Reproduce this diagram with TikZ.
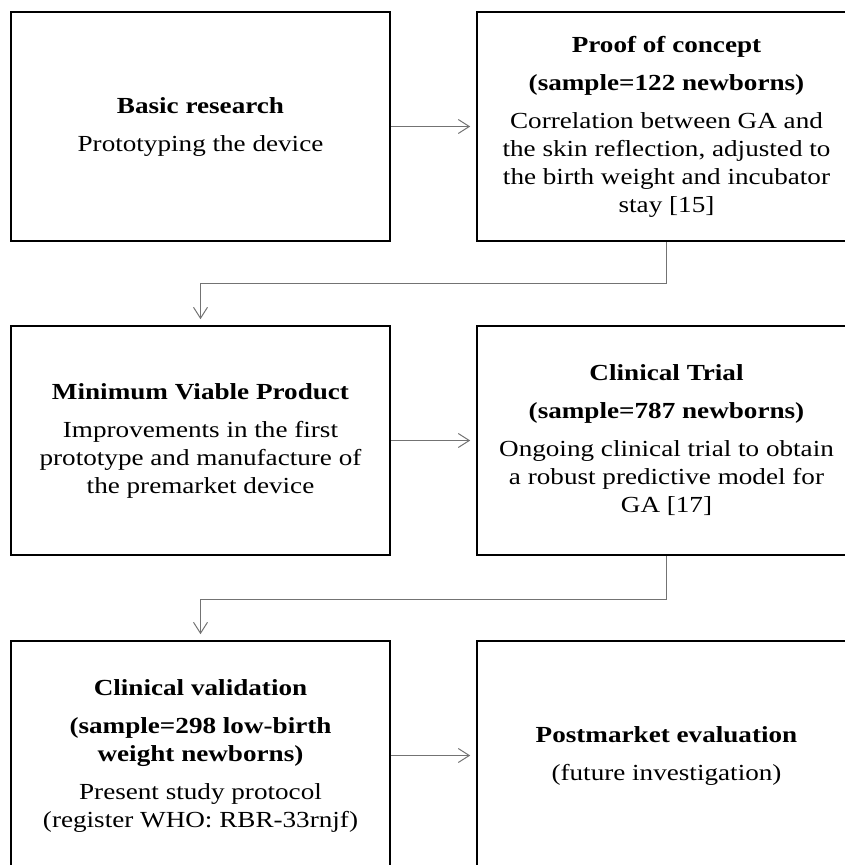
\documentclass[tikz,border=0pt]{standalone}
\usepackage{fontspec}
\setmainfont{Liberation Serif}[FakeStretch=1.18]
\usetikzlibrary{arrows.meta}
\tikzset{
    every node/.style={rectangle, draw, line width=1.6pt, minimum width=379pt, minimum height=229pt,
        inner sep=0pt, align=center, font=\fontsize{23}{28}\selectfont}
}
\tikzset{link/.style={draw=black!55, line width=1pt, -{Straight Barb[length=11pt,width=14pt]}, shorten >=6pt}}

\begin{document}
\begin{tikzpicture}[x=1pt, y=1pt]
    \clip (0,0) rectangle (845,-865);

    \node (basic) at (200.5,-126.5) {\textbf{Basic research}\\[10pt]Prototyping the device};
    \node (proof) at (666.5,-126.5) {\textbf{Proof of concept}\\[10pt]\textbf{(sample=122 newborns)}\\[10pt]Correlation between GA and\\the skin reflection, adjusted to\\the birth weight and incubator\\stay [15]};
    \node (mvp) at (200.5,-440.5) {\textbf{Minimum Viable Product}\\[10pt]Improvements in the first\\prototype and manufacture of\\the premarket device};
    \node (trial) at (666.5,-440.5) {\textbf{Clinical Trial}\\[10pt]\textbf{(sample=787 newborns)}\\[10pt]Ongoing clinical trial to obtain\\a robust predictive model for\\GA [17]};
    \node (valid) at (200.5,-755.5) {\textbf{Clinical validation}\\[10pt]\textbf{(sample=298 low-birth}\\\textbf{weight newborns)}\\[10pt]Present study protocol\\(register WHO: RBR-33rnjf)};
    \node (post) at (666.5,-755.5) {\textbf{Postmarket evaluation}\\[10pt](future investigation)};

    \draw[link] (basic) -- (proof);
    \draw[link] (proof.south) -- ++(0,-42) -| (mvp.north);
    \draw[link] (mvp) -- (trial);
    \draw[link] (trial.south) -- ++(0,-44) -| (valid.north);
    \draw[link] (valid) -- (post);
\end{tikzpicture}
\end{document}
